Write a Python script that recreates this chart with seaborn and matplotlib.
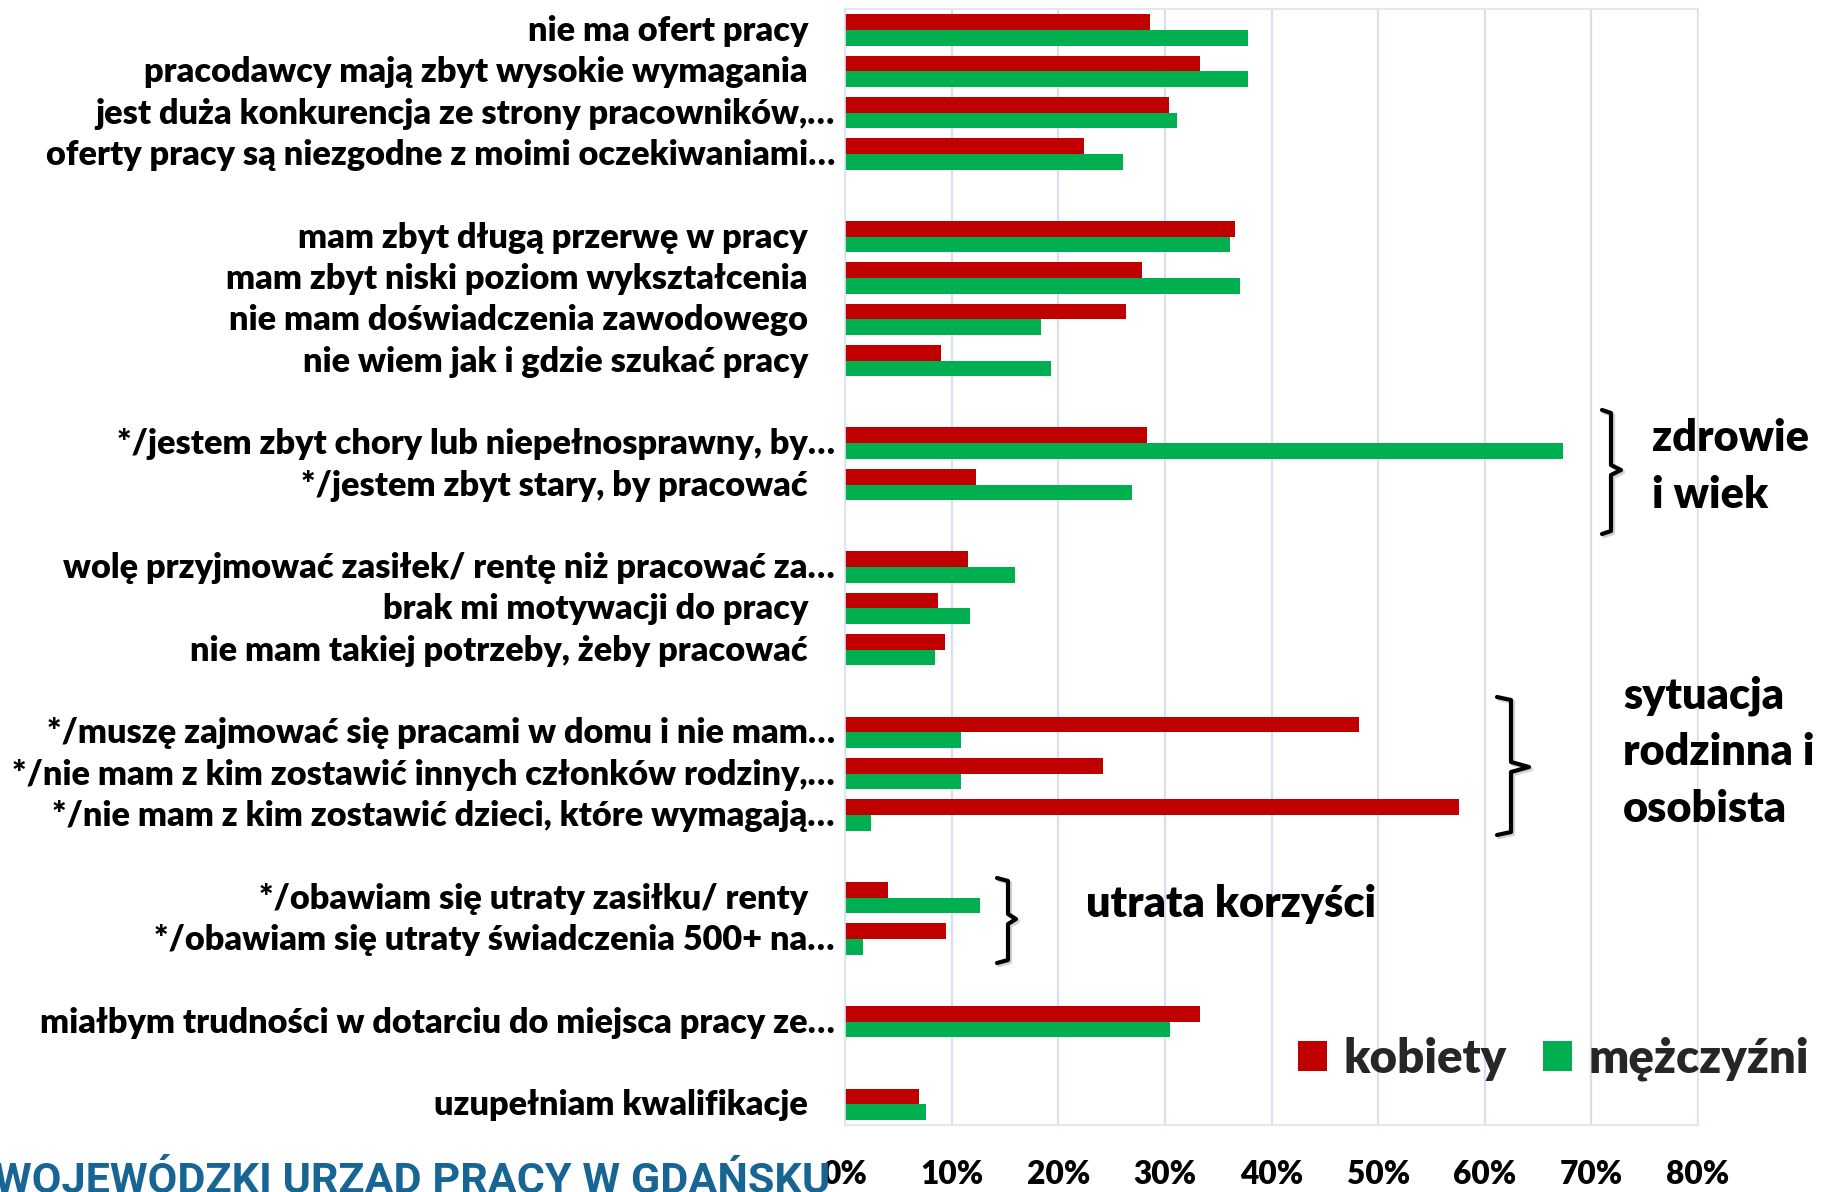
import numpy as np
import pandas as pd
import seaborn as sns
import matplotlib.pyplot as plt
import matplotlib.transforms as mtransforms
import matplotlib.patheffects as pe
from matplotlib.lines import Line2D
from matplotlib.patches import Patch
from matplotlib.ticker import PercentFormatter

# ---------------- data ----------------
labels = [
    "nie ma ofert pracy",
    "pracodawcy mają zbyt wysokie wymagania",
    "jest duża konkurencja ze strony pracowników,…",
    "oferty pracy są niezgodne z moimi oczekiwaniami…",
    "mam zbyt długą przerwę w pracy",
    "mam zbyt niski poziom wykształcenia",
    "nie mam doświadczenia zawodowego",
    "nie wiem jak i gdzie szukać pracy",
    "*/jestem zbyt chory lub niepełnosprawny, by…",
    "*/jestem zbyt stary, by pracować",
    "wolę przyjmować zasiłek/ rentę niż pracować za…",
    "brak mi motywacji do pracy",
    "nie mam takiej potrzeby, żeby pracować",
    "*/muszę zajmować się pracami w domu i nie mam…",
    "*/nie mam z kim zostawić innych członków rodziny,…",
    "*/nie mam z kim zostawić dzieci, które wymagają…",
    "*/obawiam się utraty zasiłku/ renty",
    "*/obawiam się utraty świadczenia 500+ na…",
    "miałbym trudności w dotarciu do miejsca pracy ze…",
    "uzupełniam kwalifikacje",
]
group_sizes = [4, 4, 2, 3, 3, 2, 1, 1]
kobiety = [28.6, 33.3, 30.4, 22.4, 36.6, 27.9, 26.4, 9.0, 28.3, 12.3,
           11.5, 8.7, 9.4, 48.2, 24.2, 57.6, 4.0, 9.5, 33.3, 6.9]
mezczyzni = [37.8, 37.8, 31.1, 26.1, 36.1, 37.0, 18.4, 19.3, 67.3, 26.9,
             15.9, 11.7, 8.4, 10.9, 10.9, 2.4, 12.7, 1.7, 30.5, 7.6]
series_names = ["kobiety", "mężczyźni"]
colors = {"kobiety": "#C00000", "mężczyźni": "#00B050"}
x_ticks = [0, 10, 20, 30, 40, 50, 60, 70, 80]

group_notes = [["zdrowie", "i wiek"], ["sytuacja", "rodzinna i", "osobista"], ["utrata korzyści"]]
footer = "WOJEWÓDZKI URZĄD PRACY W GDAŃSKU"

# ---------------- setup ----------------
sns.set_theme(style="white")
FAM = ["Lato", "DejaVu Sans"]
WT = 800
plt.rcParams["font.family"] = FAM
plt.rcParams["font.weight"] = WT

W, H = 1823, 1192
fig = plt.figure(figsize=(W / 100, H / 100), dpi=100)
renderer = fig.canvas.get_renderer()


def fig_xy(x, y):
    return x / W, 1 - y / H


def fit(text, target_px, family=FAM, weight=WT, size0=20):
    t = fig.text(0, 0, text, fontsize=size0, family=family, weight=weight)
    w = t.get_window_extent(renderer).width
    t.remove()
    return size0 * target_px / w


order = []
idx = 0
for gi, n in enumerate(group_sizes):
    order += labels[idx:idx + n]
    idx += n
    if gi < len(group_sizes) - 1:
        order.append(" " * (gi + 1))

df = pd.DataFrame({
    "kategoria": labels * 2,
    "płeć": [series_names[0]] * len(labels) + [series_names[1]] * len(labels),
    "wartość": kobiety + mezczyzni,
})

left, right, top, bottom = 845, 1698, 9.3, 1125
ax = fig.add_axes([left / W, 1 - bottom / H, (right - left) / W, (bottom - top) / H])

sns.barplot(data=df, y="kategoria", x="wartość", hue="płeć", order=order,
            hue_order=series_names, palette=colors, saturation=1, width=0.76,
            orient="h", ax=ax, legend=False, linewidth=0, errorbar=None)

ax.set_xlim(0, 80)
ax.set_ylim(len(order) - 0.5, -0.5)
ax.set_xticks(x_ticks)
ax.xaxis.set_major_formatter(PercentFormatter(100, decimals=0))
ax.grid(axis="x", color="#D5DFEF", lw=1.6)
ax.grid(axis="y", visible=False)
ax.set_axisbelow(True)
ax.set_xlabel("")
ax.set_ylabel("")
for s in ax.spines.values():
    s.set_color("#DCE3EE")
    s.set_linewidth(1.2)

ysize = fit("pracodawcy mają zbyt wysokie wymagania", 664)
xsize = fit("10%", 63)
ax.tick_params(axis="y", length=0, pad=37 * 0.72, labelsize=ysize, labelcolor="black")
ax.tick_params(axis="x", length=0, pad=25, labelsize=xsize, labelcolor="black")
shift_ell = mtransforms.ScaledTranslation(0.27, 0.02, fig.dpi_scale_trans)
shift_up = mtransforms.ScaledTranslation(0, 0.02, fig.dpi_scale_trans)
for lab in ax.get_yticklabels():
    lab.set_fontweight(WT)
    if lab.get_text().endswith("…"):
        lab.set_transform(lab.get_transform() + shift_ell)
    else:
        lab.set_transform(lab.get_transform() + shift_up)
for lab in ax.get_xticklabels():
    lab.set_fontweight(WT)

# ---------------- legend ----------------
lsize = fit("kobiety", 163)
handles = [Patch(facecolor=colors[n], edgecolor="none", label=n) for n in series_names]
fig.legend(handles=handles, loc="center left", bbox_to_anchor=fig_xy(1298, 1059),
           ncol=2, frameon=False, handlelength=0.62, handleheight=0.62,
           handletextpad=0.35, columnspacing=0.75, borderpad=0, borderaxespad=0,
           prop={"weight": WT, "size": lsize, "family": FAM})

# ---------------- group annotations ----------------
asize = fit("zdrowie", 157)


def note(lines, x, y0, dy=57):
    for i, line in enumerate(lines):
        fig.text(*fig_xy(x, y0 + i * dy), line, fontsize=asize, weight=WT,
                 ha="left", va="baseline", color="black")


note(group_notes[0], 1652, 451)
note(group_notes[1], 1623, 708)
note(group_notes[2], 1086, 917)

shadow = [pe.SimpleLineShadow(offset=(1.5, -1.5), shadow_color="gray", alpha=0.35), pe.Normal()]


def bracket(x0, x1, xt, ytop, ybot, ymid):
    pts = [(x0, ytop), (x1, ytop + 3), (x1, ymid - 5), (xt, ymid), (x1, ymid + 5),
           (x1, ybot - 3), (x0, ybot)]
    xs = [p[0] / W for p in pts]
    ys = [1 - p[1] / H for p in pts]
    fig.add_artist(Line2D(xs, ys, transform=fig.transFigure, color="black", lw=3,
                          solid_joinstyle="round", solid_capstyle="round",
                          path_effects=shadow))


bracket(1602, 1611, 1621, 410, 534, 470)
bracket(1497, 1511, 1529, 697, 835, 767)
bracket(997, 1008, 1016, 878, 963, 919)

# ---------------- footer (cut by the bottom edge, as in the source) ----------------
FFAM = ["Roboto", "DejaVu Sans"]
fsize = fit(footer, 835, family=FFAM, weight="bold")
cap_px = 0.711 * fsize * 100 / 72
fig.text(*fig_xy(-6, 1162 + cap_px), footer, fontsize=fsize, weight="bold",
         family=FFAM, color="#176594", ha="left", va="baseline", zorder=0)

fig.savefig("out.png", dpi=100)
